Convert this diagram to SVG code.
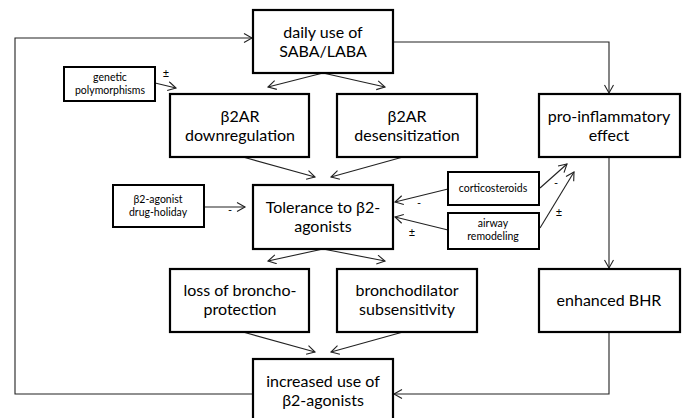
<svg xmlns="http://www.w3.org/2000/svg" width="686" height="418" viewBox="0 0 686 418">
<defs>
<style>
.box{fill:#fff;stroke:#000;stroke-width:2.2}
.sbox{fill:#fff;stroke:#000;stroke-width:2}
.t{font-family:Lato,"Open Sans","DejaVu Sans",sans-serif;font-size:16px;fill:#000;text-anchor:middle}
.s{font-family:Lato,"Open Sans","DejaVu Sans",sans-serif;font-size:10.5px;fill:#000;text-anchor:middle}
.c{fill:none;stroke:#222;stroke-width:1.1}
.a{marker-end:url(#arr)}
.l{font-family:Lato,"Open Sans","DejaVu Sans",sans-serif;font-size:11px;fill:#000;text-anchor:middle}
</style>
<marker id="arr" markerUnits="userSpaceOnUse" markerWidth="12" markerHeight="12" refX="9" refY="5" orient="auto">
<path d="M1,0.5 L9,5 L1,9.5" fill="none" stroke="#222" stroke-width="1.1"/>
</marker>
</defs>
<rect width="686" height="418" fill="#fff"/>
<g id="connectors">
<polyline class="c a" points="253,394 15,394 15,38 252,38"/>
<polyline class="c a" points="393,42 609,42 609,93"/>
<line class="c a" x1="323" y1="73" x2="268" y2="87"/>
<line class="c a" x1="323" y1="73" x2="385" y2="87"/>
<line class="c a" x1="155" y1="83" x2="176" y2="88"/>
<line class="c a" x1="243" y1="157" x2="315" y2="177"/>
<line class="c a" x1="403" y1="157" x2="331" y2="177"/>
<line class="c a" x1="204" y1="207" x2="245" y2="207"/>
<line class="c a" x1="448" y1="189" x2="395" y2="202"/>
<line class="c a" x1="448" y1="230" x2="395" y2="217"/>
<line class="c a" x1="540" y1="188" x2="567" y2="164"/>
<line class="c a" x1="540" y1="228" x2="574" y2="172"/>
<line class="c a" x1="609" y1="157" x2="609" y2="268"/>
<polyline class="c a" points="609,332 609,394 394,394"/>
<line class="c a" x1="323" y1="249" x2="268" y2="261"/>
<line class="c a" x1="323" y1="249" x2="385" y2="261"/>
<line class="c a" x1="243" y1="332" x2="315" y2="352"/>
<line class="c a" x1="403" y1="332" x2="331" y2="352"/>
<text class="l" x="166" y="77">±</text>
<text class="l" x="230" y="214">-</text>
<text class="l" x="419" y="207">-</text>
<text class="l" x="412" y="236">±</text>
<text class="l" x="556" y="187">-</text>
<text class="l" x="559" y="216">±</text>
</g>
<g id="daily">
<rect class="box" x="253" y="10" width="140" height="63"/>
<text class="t" x="323" y="38">daily use of</text>
<text class="t" x="323" y="57">SABA/LABA</text>
</g>
<g id="genetic">
<rect class="sbox" x="64" y="67" width="91" height="34"/>
<text class="s" x="110" y="81">genetic</text>
<text class="s" x="110" y="94">polymorphisms</text>
</g>
<g id="downregulation">
<rect class="box" x="170" y="94" width="139" height="63"/>
<text class="t" x="240" y="122">β2AR</text>
<text class="t" x="240" y="141">downregulation</text>
</g>
<g id="desensitization">
<rect class="box" x="337" y="94" width="140" height="63"/>
<text class="t" x="407" y="122">β2AR</text>
<text class="t" x="407" y="141">desensitization</text>
</g>
<g id="proinflammatory">
<rect class="box" x="539" y="94" width="141" height="63"/>
<text class="t" x="609" y="122">pro-inflammatory</text>
<text class="t" x="609" y="141">effect</text>
</g>
<g id="drugholiday">
<rect class="sbox" x="113" y="185" width="91" height="42"/>
<text class="s" x="158" y="203">β2-agonist</text>
<text class="s" x="158" y="216">drug-holiday</text>
</g>
<g id="tolerance">
<rect class="box" x="253" y="185" width="140" height="64"/>
<text class="t" x="323" y="213">Tolerance to β2-</text>
<text class="t" x="323" y="232">agonists</text>
</g>
<g id="corticosteroids">
<rect class="sbox" x="448" y="172" width="91" height="33"/>
<text class="s" x="493" y="192">corticosteroids</text>
</g>
<g id="airway">
<rect class="sbox" x="448" y="213" width="91" height="36"/>
<text class="s" x="493" y="227">airway</text>
<text class="s" x="493" y="240">remodeling</text>
</g>
<g id="loss">
<rect class="box" x="170" y="269" width="139" height="63"/>
<text class="t" x="240" y="296">loss of broncho-</text>
<text class="t" x="240" y="315">protection</text>
</g>
<g id="bronchodilator">
<rect class="box" x="337" y="269" width="140" height="63"/>
<text class="t" x="407" y="296">bronchodilator</text>
<text class="t" x="407" y="315">subsensitivity</text>
</g>
<g id="bhr">
<rect class="box" x="539" y="269" width="141" height="63"/>
<text class="t" x="609" y="306">enhanced BHR</text>
</g>
<g id="increased">
<rect class="box" x="253" y="359" width="140" height="64"/>
<text class="t" x="323" y="387">increased use of</text>
<text class="t" x="323" y="406">β2-agonists</text>
</g>
</svg>
